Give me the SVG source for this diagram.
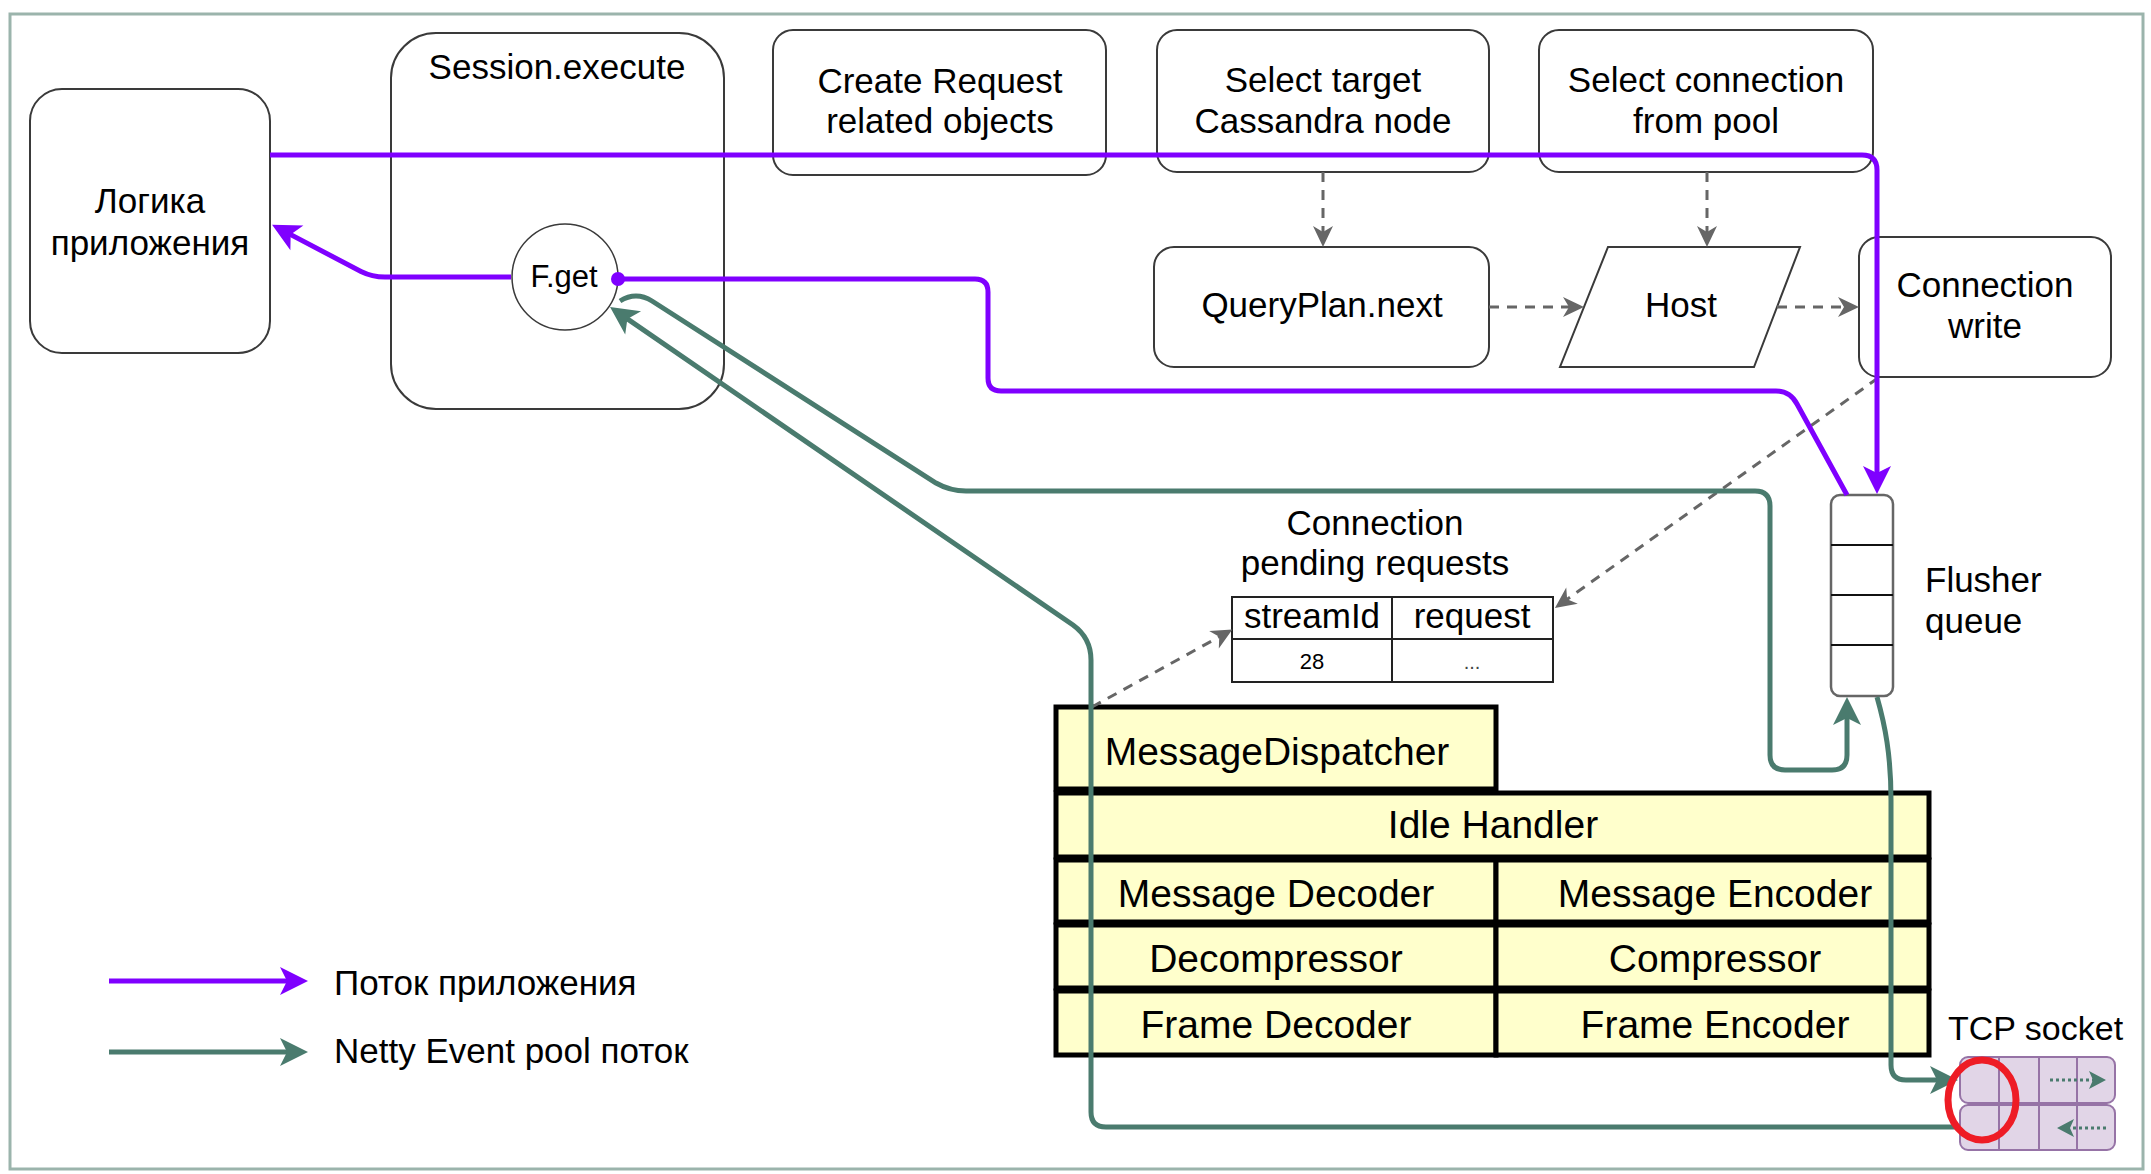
<svg xmlns="http://www.w3.org/2000/svg" width="2151" height="1174" viewBox="0 0 2151 1174">
<style>
text{font-family:"Liberation Sans",Arial,Helvetica,sans-serif;fill:#000;}
.t{font-size:35px;text-anchor:middle;}
.tl{font-size:35px;}
.p{font-size:39px;text-anchor:middle;}
.box{fill:#fff;stroke:#3a3a3a;stroke-width:2;}
.pipe{fill:#ffffcc;stroke:#000;stroke-width:5;}
.purple{fill:none;stroke:#7f00ff;stroke-width:5;}
.green{fill:none;stroke:#4a7b6e;stroke-width:5;}
.dash{fill:none;stroke:#666;stroke-width:3;stroke-dasharray:10 8;}
.tcp{fill:#e1d5e7;stroke:#9673a6;stroke-width:2;}
</style>
<defs>
<marker id="arrP" markerUnits="userSpaceOnUse" markerWidth="40" markerHeight="40" refX="22" refY="0" orient="auto" style="overflow:visible"><path d="M0,-14 L28,0 L0,14 L7,0 Z" fill="#7f00ff"/></marker>
<marker id="arrG" markerUnits="userSpaceOnUse" markerWidth="40" markerHeight="40" refX="22" refY="0" orient="auto" style="overflow:visible"><path d="M0,-14 L28,0 L0,14 L7,0 Z" fill="#4a7b6e"/></marker>
<marker id="arrD" markerUnits="userSpaceOnUse" markerWidth="30" markerHeight="30" refX="16" refY="0" orient="auto" style="overflow:visible"><path d="M0,-10 L21,0 L0,10 L6,0 Z" fill="#666"/></marker>
<marker id="arrS" markerUnits="userSpaceOnUse" markerWidth="30" markerHeight="30" refX="12" refY="0" orient="auto" style="overflow:visible"><path d="M0,-9 L17,0 L0,9 L4,0 Z" fill="#4a7b6e"/></marker>
</defs>
<rect width="2151" height="1174" fill="#fff"/>
<rect x="10" y="14" width="2133" height="1155" fill="none" stroke="#9bb4ac" stroke-width="3"/>

<g id="app-logic"><rect class="box" x="30" y="89" width="240" height="264" rx="32"/><text class="t" x="150" y="213">Логика</text><text class="t" x="150" y="255">приложения</text></g>
<g id="session-execute"><rect class="box" x="391" y="33" width="333" height="376" rx="45"/><text class="t" x="557" y="79">Session.execute</text></g>
<g id="fget"><circle cx="565" cy="277" r="53" fill="#fff" stroke="#3a3a3a" stroke-width="1.5"/><text class="t" style="font-size:31px" x="564" y="287">F.get</text></g>
<g id="create-request"><rect class="box" x="773" y="30" width="333" height="145" rx="20"/><text class="t" x="940" y="93">Create Request</text><text class="t" x="940" y="133">related objects</text></g>
<g id="select-target"><rect class="box" x="1157" y="30" width="332" height="142" rx="20"/><text class="t" x="1323" y="92">Select target</text><text class="t" x="1323" y="133">Cassandra node</text></g>
<g id="select-connection"><rect class="box" x="1539" y="30" width="334" height="142" rx="20"/><text class="t" x="1706" y="92">Select connection</text><text class="t" x="1706" y="133">from pool</text></g>
<g id="queryplan"><rect class="box" x="1154" y="247" width="335" height="120" rx="20"/><text class="t" x="1322" y="317">QueryPlan.next</text></g>
<g id="host"><path class="box" d="M1608,247 H1800 L1754,367 H1560 Z"/><text class="t" x="1681" y="317">Host</text></g>
<g id="connection-write"><rect class="box" x="1859" y="237" width="252" height="140" rx="20"/><text class="t" x="1985" y="297">Connection</text><text class="t" x="1985" y="338">write</text></g>
<g id="pending-requests">
<text class="t" x="1375" y="535">Connection</text><text class="t" x="1375" y="575">pending requests</text>
<rect x="1232" y="597" width="321" height="85" fill="#fff" stroke="#222" stroke-width="2"/>
<line x1="1232" y1="639" x2="1553" y2="639" stroke="#222" stroke-width="2"/>
<line x1="1392" y1="597" x2="1392" y2="682" stroke="#222" stroke-width="2"/>
<text class="t" x="1312" y="628">streamId</text><text class="t" x="1472" y="628">request</text>
<text class="t" style="font-size:22px" x="1312" y="669">28</text><text class="t" style="font-size:20px;fill:#444" x="1472" y="669">...</text>
</g>
<g id="flusher-queue"><rect x="1831" y="495" width="62" height="201" rx="9" fill="#fff" stroke="#666" stroke-width="2.5"/>
<path d="M1831,545 H1893 M1831,595 H1893 M1831,645 H1893" stroke="#111" stroke-width="2"/>
<text class="tl" x="1925" y="592">Flusher</text><text class="tl" x="1925" y="633">queue</text></g>
<g id="pipeline">
<rect class="pipe" x="1056" y="707" width="440" height="82"/><text class="p" x="1277" y="765">MessageDispatcher</text>
<rect class="pipe" x="1056" y="793" width="873" height="64"/><text class="p" x="1493" y="838">Idle Handler</text>
<rect class="pipe" x="1056" y="860" width="440" height="62"/><text class="p" x="1276" y="907">Message Decoder</text>
<rect class="pipe" x="1496" y="860" width="433" height="62"/><text class="p" x="1715" y="907">Message Encoder</text>
<rect class="pipe" x="1056" y="925" width="440" height="63"/><text class="p" x="1276" y="972">Decompressor</text>
<rect class="pipe" x="1496" y="925" width="433" height="63"/><text class="p" x="1715" y="972">Compressor</text>
<rect class="pipe" x="1056" y="991" width="440" height="64"/><text class="p" x="1276" y="1038">Frame Decoder</text>
<rect class="pipe" x="1496" y="991" width="433" height="64"/><text class="p" x="1715" y="1038">Frame Encoder</text>
</g>
<g id="tcp-socket">
<text class="tl" style="font-size:34px" x="1948" y="1040">TCP socket</text>
<rect class="tcp" x="1960" y="1057" width="155" height="46" rx="8"/>
<rect class="tcp" x="1960" y="1105" width="155" height="45" rx="8"/>
<path d="M1999,1057 V1150 M2039,1057 V1150 M2077,1057 V1150" stroke="#9673a6" stroke-width="2"/>
<path d="M2050,1080 H2101" stroke="#4a7b6e" stroke-width="3" stroke-dasharray="3 3" fill="none" marker-end="url(#arrS)"/>
<path d="M2106,1128 H2062" stroke="#4a7b6e" stroke-width="3" stroke-dasharray="3 3" fill="none" marker-end="url(#arrS)"/>
</g>
<g id="legend">
<path class="purple" d="M109,981 H302" marker-end="url(#arrP)"/>
<text class="tl" x="334" y="995">Поток приложения</text>
<path class="green" d="M109,1052 H302" marker-end="url(#arrG)"/>
<text class="tl" x="334" y="1063">Netty Event pool поток</text>
</g>
<g id="connectors">
<path class="dash" d="M1323,172 V242" marker-end="url(#arrD)"/>
<path class="dash" d="M1707,172 V242" marker-end="url(#arrD)"/>
<path class="dash" d="M1489,307 H1579" marker-end="url(#arrD)"/>
<path class="dash" d="M1777,307 H1854" marker-end="url(#arrD)"/>
<path class="dash" d="M1878,378 L1559,605" marker-end="url(#arrD)"/>
<path class="dash" d="M1092,707 L1228,632" marker-end="url(#arrD)"/>
<path class="purple" d="M270,155 H1862 Q1877,155 1877,170 V488" marker-end="url(#arrP)"/>
<path class="purple" d="M618,279 H975 Q988,279 988,292 V378 Q988,391 1001,391 H1776 Q1790,391 1797,404 L1847,495"/>
<circle cx="618" cy="279" r="7" fill="#7f00ff"/>
<path class="purple" d="M511,277 H385 Q372,277 361,271.5 L277.4,227.6" marker-end="url(#arrP)"/>
<path class="green" d="M620,301 Q636,291 652,301 L936,483 Q950,491 966,491 H1755 Q1770,491 1770,506 V755 Q1770,770 1785,770 H1832 Q1847,770 1847,755 V703" marker-end="url(#arrG)"/>
<path class="green" d="M1877,697 C1885,725 1891,755 1891,800 V1065 Q1891,1080 1906,1080 H1952" marker-end="url(#arrG)"/>
<path class="green" d="M1960,1127 H1106 Q1091,1127 1091,1112 V660 Q1091,638 1073,625 L615,310.4" marker-end="url(#arrG)"/>
</g>
<ellipse id="highlight" cx="1982" cy="1100" rx="34" ry="40" fill="none" stroke="#ee1c25" stroke-width="7"/>
</svg>
